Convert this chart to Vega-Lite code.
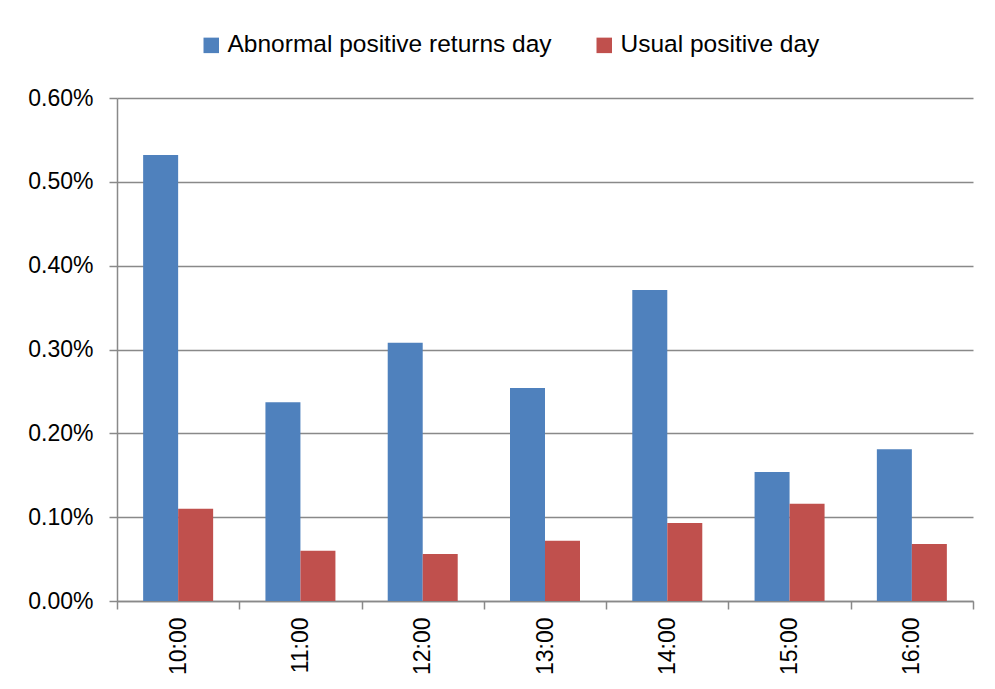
{
  "$schema": "https://vega.github.io/schema/vega-lite/v6.json",
  "autosize": {"type": "none"},
  "padding": {"left": 117, "top": 98, "right": 22, "bottom": 88},
  "width": 856,
  "height": 503,
  "background": "white",
  "config": {
    "view": {"stroke": null},
    "font": "Liberation Sans"
  },
  "data": {
    "values": [
      {"hour": "10:00", "series": "Abnormal positive returns day", "value": 0.00532},
      {"hour": "10:00", "series": "Usual positive day", "value": 0.00110},
      {"hour": "11:00", "series": "Abnormal positive returns day", "value": 0.00237},
      {"hour": "11:00", "series": "Usual positive day", "value": 0.00060},
      {"hour": "12:00", "series": "Abnormal positive returns day", "value": 0.00308},
      {"hour": "12:00", "series": "Usual positive day", "value": 0.00056},
      {"hour": "13:00", "series": "Abnormal positive returns day", "value": 0.00254},
      {"hour": "13:00", "series": "Usual positive day", "value": 0.00072},
      {"hour": "14:00", "series": "Abnormal positive returns day", "value": 0.00371},
      {"hour": "14:00", "series": "Usual positive day", "value": 0.00093},
      {"hour": "15:00", "series": "Abnormal positive returns day", "value": 0.00154},
      {"hour": "15:00", "series": "Usual positive day", "value": 0.00116},
      {"hour": "16:00", "series": "Abnormal positive returns day", "value": 0.00181},
      {"hour": "16:00", "series": "Usual positive day", "value": 0.00068}
    ]
  },
  "mark": {"type": "bar"},
  "encoding": {
    "x": {
      "field": "hour",
      "type": "nominal",
      "scale": {"paddingInner": 0, "paddingOuter": 0},
      "axis": {
        "title": null,
        "labelAngle": -90,
        "labelFontSize": 23,
        "labelColor": "black",
        "labelPadding": 8,
        "tickBand": "extent",
        "tickSize": 8,
        "tickColor": "#898989",
        "tickWidth": 1.5,
        "domainColor": "#898989",
        "domainWidth": 1.5,
        "grid": false
      }
    },
    "xOffset": {"field": "series", "type": "nominal", "scale": {"paddingInner": 0, "paddingOuter": 0.747}},
    "y": {
      "field": "value",
      "type": "quantitative",
      "scale": {"domain": [0, 0.006], "nice": false},
      "axis": {
        "title": null,
        "values": [0, 0.001, 0.002, 0.003, 0.004, 0.005, 0.006],
        "format": ".2%",
        "labelFontSize": 23,
        "labelColor": "black",
        "labelPadding": 16,
        "tickSize": 8,
        "tickColor": "#898989",
        "tickWidth": 1.5,
        "domainColor": "#898989",
        "domainWidth": 1.5,
        "grid": true,
        "gridColor": "#898989",
        "gridWidth": 1.5
      }
    },
    "color": {
      "field": "series",
      "type": "nominal",
      "scale": {"range": ["#4F81BD", "#C0504D"]},
      "legend": {
        "title": null,
        "orient": "none",
        "direction": "horizontal",
        "legendX": 82,
        "legendY": -65,
        "symbolType": "square",
        "symbolSize": 240,
        "symbolStrokeWidth": 0,
        "labelFontSize": 24.5,
        "labelColor": "black",
        "labelOffset": 4,
        "columnPadding": 40,
        "labelLimit": 500
      }
    }
  }
}
